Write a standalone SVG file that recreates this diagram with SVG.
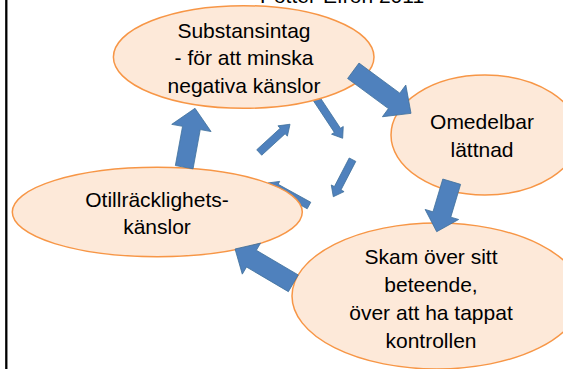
<svg xmlns="http://www.w3.org/2000/svg" width="563" height="369" viewBox="0 0 563 369">
  <style>
    .node { fill: #FDE9D9; stroke: #F79646; stroke-width: 1.5; }
    .lbl { font-family: "Liberation Sans", Arial, sans-serif; font-size: 21px; fill: #000; text-anchor: middle; }
    .arr { fill: #4F81BD; stroke: #41719C; stroke-width: 0.75; stroke-linejoin: miter; }
  </style>
  <rect width="563" height="369" fill="#fff"/>
  <line x1="6.3" y1="0" x2="6.3" y2="369" stroke="#000" stroke-width="2.3"/>
  <text class="lbl" x="342" y="3">Potter-Efron 2011</text>

  <g id="connectors-under">
    <polygon class="arr" transform="translate(259.2,152.5) rotate(-42.5)" points="0,-3.7 31.8,-3.7 31.8,-7 41.8,0 31.8,7 31.8,3.7 0,3.7"/>
    <polygon class="arr" transform="translate(316,98) rotate(56.5)" points="0,-3.7 38.8,-3.7 38.8,-7 48.3,0 38.8,7 38.8,3.7 0,3.7"/>
    <polygon class="arr" transform="translate(352.5,159.7) rotate(117.4)" points="0,-3.7 32.2,-3.7 32.2,-7.2 41.7,0 32.2,7.2 32.2,3.7 0,3.7"/>
    <polygon class="arr" transform="translate(309,205.5) rotate(208.8)" points="0,-3.7 37.3,-3.7 37.3,-7 46.8,0 37.3,7 37.3,3.7 0,3.7"/>
  </g>

  <g id="node-substansintag">
    <ellipse class="node" cx="243.7" cy="57" rx="130.3" ry="51.3"/>
    <text class="lbl" x="244" y="37.5">Substansintag</text>
    <text class="lbl" x="244" y="65">- för att minska</text>
    <text class="lbl" x="244" y="92.5">negativa känslor</text>
  </g>

  <g id="node-omedelbar">
    <ellipse class="node" cx="485" cy="135" rx="94" ry="60"/>
    <text class="lbl" x="482" y="129">Omedelbar</text>
    <text class="lbl" x="482" y="156.5">lättnad</text>
  </g>

  <g id="node-otillracklighet">
    <ellipse class="node" cx="157.3" cy="212" rx="145" ry="44.7"/>
    <text class="lbl" x="157" y="206.7">Otillräcklighets-</text>
    <text class="lbl" x="157" y="234.3">känslor</text>
  </g>

  <g id="node-skam">
    <ellipse class="node" cx="437" cy="296" rx="145" ry="73"/>
    <text class="lbl" x="431" y="263.5">Skam över sitt</text>
    <text class="lbl" x="431" y="292">beteende,</text>
    <text class="lbl" x="431" y="320">över att ha tappat</text>
    <text class="lbl" x="431" y="348">kontrollen</text>
  </g>

  <g id="connectors">
    <polygon class="arr" transform="translate(353.3,70.8) rotate(36.4)" points="0,-9.6 50.7,-9.6 50.7,-19.7 71.7,0 50.7,19.7 50.7,9.6 0,9.6"/>
    <polygon class="arr" transform="translate(451.7,181.7) rotate(106.7)" points="0,-9.3 34.2,-9.3 34.2,-17.5 52.2,0 34.2,17.5 34.2,9.3 0,9.3"/>
    <polygon class="arr" transform="translate(293.3,283.3) rotate(210.5)" points="0,-9.7 48.6,-9.7 48.6,-18 67.6,0 48.6,18 48.6,9.7 0,9.7"/>
    <polygon class="arr" transform="translate(184.2,167.2) rotate(-79.6)" points="0,-9 39.9,-9 39.9,-20 59.9,0 39.9,20 39.9,9 0,9"/>
  </g>
</svg>
